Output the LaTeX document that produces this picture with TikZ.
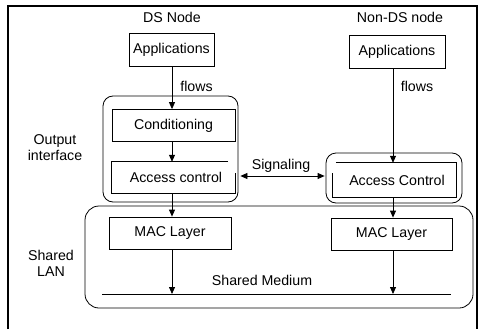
\documentclass[tikz,border=0pt]{standalone}
\usepackage{fontspec}
\setmainfont{Liberation Sans}
\usetikzlibrary{arrows.meta,calc}
\begin{document}
\begin{tikzpicture}[x=1pt,y=-1pt,
  txt/.style={font=\fontsize{14.2}{16}\selectfont, inner sep=0pt, align=center},
  box/.style={txt, draw, line width=0.8pt},
  group/.style={draw, line width=0.8pt, rounded corners=#1, inner sep=0pt},
  arr/.style={-{Triangle[length=7pt,width=6pt]}, line width=0.8pt},
  darr/.style={{Triangle[length=7pt,width=6pt]}-{Triangle[length=7pt,width=6pt]}, line width=0.8pt},
  ln/.style={line width=0.8pt}]
\useasboundingbox (0,0) rectangle (478,329);
% frame
\draw[line width=2pt] (8,329) -- (8,6) -- (477,6) -- (477,329);

% groups
\node[group=10pt, minimum width=135, minimum height=106] (oiA) at (170.5,149) {};
\node[group=10pt, minimum width=136, minimum height=50] (oiB) at (394,178) {};
\node[group=14pt, minimum width=388, minimum height=102] (lan) at (279,257) {};

% headers
\node[txt] (hA) at (172,17) {DS Node};
\node[txt] (hB) at (400,17) {Non-DS node};

% boxes
\node[box, minimum width=85, minimum height=33] (appA) at (171.5,49.5) {Applications};
\node[box, minimum width=96, minimum height=33] (appB) at (397,52) {Applications};
\node[box, minimum width=123, minimum height=32] (cond) at (173.5,125.5) {Conditioning};
\node[txt, minimum width=123, minimum height=31] (acA) at (173.5,177.5) {\hspace*{5pt}Access control};
\node[txt, minimum width=123, minimum height=34] (acB) at (394.5,180) {\hspace*{5pt}Access Control};
\node[box, minimum width=122, minimum height=32] (macA) at (170,233) {MAC Layer};
\node[box, minimum width=121, minimum height=32] (macB) at (391.5,234) {MAC Layer};

% broken outlines of access control boxes
\draw[ln] ($(acA.north east)+(-7,0)$) -- (acA.north west) -- (acA.south west) -- (acA.south east) -- ($(acA.north east)+(0,11)$);
\draw[ln] ($(acB.north west)+(3,0)$) -- (acB.north east) -- (acB.south east) -- (acB.south west) -- ($(acB.north west)+(0,10)$);

% labels
\node[txt] (flA) at (196.5,86) {flows};
\node[txt] (flB) at (417,86) {flows};
\node[txt] (oil) at (55,148) {Output\\interface};
\node[txt] (lanl) at (51,263) {Shared\\LAN};
\node[txt] (sigl) at (281,166) {Signaling};
\node[txt] (sml) at (262,280) {Shared Medium};

% helper coordinates
\coordinate (xA) at (172,0);
\coordinate (xB) at (393,0);
\coordinate (sm1) at (102,294);
\coordinate (sm2) at (451,294);
\coordinate (sig) at (0,176);

% connectors
\draw[arr] (appA.south -| xA) -- (cond.north -| xA);
\draw[arr] (cond.south -| xA) -- (acA.north -| xA);
\draw[arr] (acA.south -| xA) -- (macA.north -| xA);
\draw[arr] (macA.south -| xA) -- (sm1 -| xA);
\draw[arr] (appB.south -| xB) -- (acB.north -| xB);
\draw[arr] (acB.south -| xB) -- (macB.north -| xB);
\draw[arr] (macB.south -| xB) -- (sm1 -| xB);
\draw[ln] (sm1) -- (sm2);
\draw[darr] ($(oiA.east |- sig)+(2,0)$) -- ($(oiB.west |- sig)+(-1,0)$);
\end{tikzpicture}
\end{document}
